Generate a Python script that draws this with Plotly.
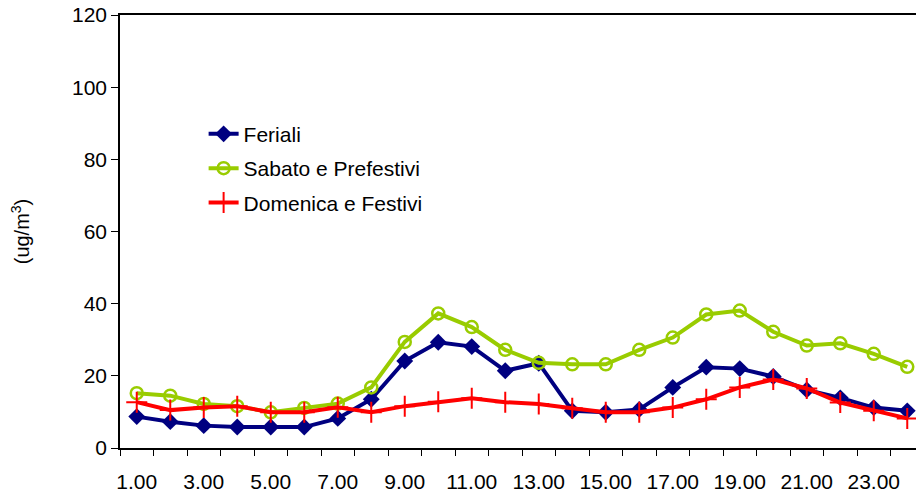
import plotly.graph_objects as go

# ore del giorno
ore = list(range(1, 25))
etichette_ore = [1, 3, 5, 7, 9, 11, 13, 15, 17, 19, 21, 23]

feriali = [8.7, 7.3, 6.2, 5.8, 5.8, 5.8, 8.2, 13.5, 24.1, 29.3, 28.1, 21.4,
           23.5, 10.3, 9.9, 10.7, 16.8, 22.4, 22.0, 19.8, 16.1, 13.9, 11.2, 10.3]
sabato = [15.2, 14.5, 12.2, 11.6, 9.9, 11.1, 12.3, 16.8, 29.4, 37.3, 33.5, 27.2,
          23.6, 23.2, 23.2, 27.2, 30.6, 37.0, 38.1, 32.2, 28.4, 29.0, 26.1, 22.5]
domenica = [12.7, 10.5, 11.2, 11.6, 9.9, 9.9, 11.3, 9.9, 11.6, 12.8, 13.8, 12.7,
            12.2, 11.0, 9.9, 9.9, 11.2, 13.5, 16.8, 19.0, 16.5, 12.6, 10.3, 8.2]

fig = go.Figure()

fig.add_trace(go.Scatter(
    x=ore, y=feriali, name='Feriali', mode='lines+markers', legendgroup='a',
    line=dict(color='#000080', width=4),
    marker=dict(symbol='diamond', size=13, color='#000080')
))
fig.add_trace(go.Scatter(
    x=ore, y=sabato, name='Sabato e Prefestivi', mode='lines+markers', legendgroup='b',
    line=dict(color='#99CC00', width=4),
    marker=dict(symbol='circle-open', size=12, color='#99CC00', line=dict(width=2.5))
))
fig.add_trace(go.Scatter(
    x=ore, y=domenica, name='Domenica e Festivi', mode='lines+markers', legendgroup='c',
    line=dict(color='#FF0000', width=4),
    marker=dict(symbol='cross-thin', size=15, color='#FF0000', line=dict(width=2, color='#FF0000'))
))

# la pagina ha 8px di margine sul body
fig.update_layout(
    width=916, height=487,
    margin=dict(l=112, r=0, t=7, b=47),
    plot_bgcolor='white', paper_bgcolor='white',
    font=dict(family='Liberation Sans, Arial, sans-serif', size=21, color='black'),
    showlegend=True,
    legend=dict(x=0.104, y=0.772, xanchor='left', yanchor='top',
                bgcolor='rgba(0,0,0,0)', font=dict(size=21),
                tracegroupgap=4, traceorder='grouped'),
    xaxis=dict(
        range=[0.5, 24.5], tickvals=etichette_ore, tickformat='.2f',
        ticks='', ticklabelstandoff=14, showgrid=False, zeroline=False,
        showline=True, linecolor='black', linewidth=1.5, mirror=True,
        minor=dict(tick0=0.5, dtick=1, ticks='outside', ticklen=6, tickcolor='black', showgrid=False),
        tickfont=dict(size=21), automargin=False
    ),
    yaxis=dict(
        range=[0, 120], dtick=20, ticks='outside', ticklen=7, tickcolor='black',
        showgrid=False, zeroline=False, ticklabeloverflow='allow',
        showline=True, linecolor='black', linewidth=1.5,
        title=dict(text='(ug/m<sup>3</sup>)', font=dict(size=20), standoff=60),
        tickfont=dict(size=21), automargin=False
    )
)

fig.write_html("out.html")
